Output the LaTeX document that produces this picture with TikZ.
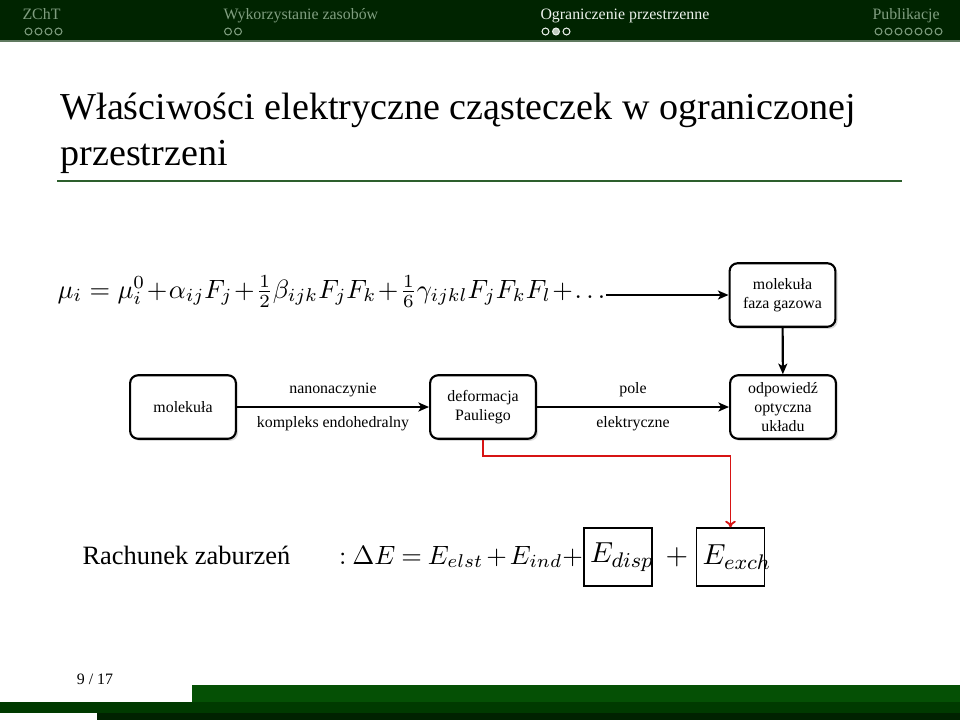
\documentclass[tikz,border=0pt]{standalone}
\usepackage[no-math]{fontspec}
\setmainfont{Liberation Serif}
\usetikzlibrary{arrows.meta,shadows}
\definecolor{pasek}{RGB}{0,36,0}
\definecolor{paseklinia}{RGB}{96,122,96}
\definecolor{nawig}{RGB}{128,158,128}
\definecolor{nawigakt}{RGB}{236,242,236}
\definecolor{linia}{RGB}{45,95,45}
\definecolor{stopkaA}{RGB}{5,80,5}
\definecolor{stopkaB}{RGB}{0,58,0}
\definecolor{stopkaC}{RGB}{0,34,0}
\definecolor{czerwony}{RGB}{215,20,20}
\tikzset{
  blok/.style={draw, line width=0.8pt, rounded corners=3pt, fill=white,
    minimum width=40pt, minimum height=24pt, align=center, inner sep=1pt,
    font=\fontsize{6}{7.2}\selectfont,
    drop shadow={shadow xshift=0.8pt, shadow yshift=-0.8pt, opacity=0.3}},
  etykieta/.style={font=\fontsize{6}{7.2}\selectfont},
  ramka/.style={draw, line width=0.5pt, text width=21pt, inner sep=2.3pt,
    minimum height=21.9pt, align=left, font=\fontsize{11}{13}\selectfont},
  nawig/.style={font=\fontsize{6}{7.2}\selectfont, anchor=base west, inner sep=0pt},
  kropka/.style={circle, draw, line width=0.4pt, minimum size=2.6pt, inner sep=0pt},
  strzalka/.style={-{Stealth[length=4pt,width=3.4pt,inset=1pt]}, line width=0.8pt},
  czerwona/.style={-{To[length=2.5pt,width=4pt]}, line width=0.7pt, draw=czerwony}
}
\begin{document}
\begin{tikzpicture}[x=0.378pt,y=-0.378pt]
\useasboundingbox (0,0) rectangle (960,720);
\fill[pasek] (0,0) rectangle (960,40);
\fill[paseklinia] (0,40) rectangle (960,42);
\node[nawig, text=nawig] (s1) at (22,19) {ZChT};
\node[nawig, text=nawig] (s2) at (223,19) {Wykorzystanie zasobów};
\node[nawig, text=nawigakt] (s3) at (540,19) {Ograniczenie przestrzenne};
\node[nawig, text=nawig] (s4) at (872,19) {Publikacje};
\foreach \i in {0,...,3}
  \node[kropka, draw=nawig] (k1\i) at (28.5+10*\i,31.5) {};
\foreach \i in {0,1}
  \node[kropka, draw=nawig] (k2\i) at (228+10*\i,31.5) {};
\node[kropka, draw=nawigakt] (k30) at (545.5,31.5) {};
\node[kropka, draw=nawigakt, fill=nawigakt!80!pasek] (k31) at (556,31.5) {};
\node[kropka, draw=nawigakt] (k32) at (566.5,31.5) {};
\foreach \i in {0,...,6}
  \node[kropka, draw=nawig] (k4\i) at (878.5+10*\i,31.5) {};

\node[anchor=base west, inner sep=0pt, font=\fontsize{14.4}{17.28}\selectfont] (t1) at (60,119) {Właściwości elektryczne cząsteczek w ograniczonej};
\node[anchor=base west, inner sep=0pt, font=\fontsize{14.4}{17.28}\selectfont] (t2) at (60,165) {przestrzeni};
\draw[linia, line width=0.75pt] (57,181) -- (902,181);

\node[anchor=base west, inner sep=0pt, font=\fontsize{10}{12}\selectfont] (eq) at (57,298) {\medmuskip=1mu $\mu_i = \mu_i^0+\alpha_{ij}F_j+\frac{1}{2}\beta_{ijk}F_jF_k+\frac{1}{6}\gamma_{ijkl}F_jF_kF_l+\ldots$};
\node[blok] (gas) at (782.5,295) {molekuła\\faza gazowa};
\node[blok] (mol) at (183,407) {molekuła};
\node[blok] (deform) at (483,407) {deformacja\\Pauliego};
\node[blok] (resp) at (783,407) {odpowiedź\\optyczna\\układu};
\draw[strzalka] (eq.east |- gas.west) -- (gas.west);
\draw[strzalka] (gas) -- (resp);
\draw[strzalka] (mol) -- node[etykieta, above] {nanonaczynie} node[etykieta, below] {kompleks endohedralny} (deform);
\draw[strzalka] (deform) -- node[etykieta, above] {pole} node[etykieta, below] {elektryczne} (resp);

\node[anchor=base west, inner sep=0pt] (rach) at (82,564) {Rachunek zaburzeń};
\node[ramka] (disp) at (618,557) {$E_{disp}$};
\node[anchor=base east, inner sep=0pt, font=\fontsize{10}{12}\selectfont] (rown) at (disp.west |- 0,564) {\medmuskip=2mu \thickmuskip=4mu $:\Delta E = E_{elst}+E_{ind}+$};
\node[anchor=base, inner sep=0pt, font=\fontsize{11}{13}\selectfont] (plus) at (677,564) {$+$};
\node[ramka] (exch) at (730.5,557) {$E_{exch}$};
\draw[czerwona] (deform.south) -- ++(0,16) -| (exch.north);

\node[anchor=base, inner sep=0pt, font=\fontsize{6}{7.2}\selectfont] (nr) at (95,684) {9 / 17};
\fill[stopkaA] (192,685) rectangle (960,702);
\fill[stopkaB] (0,702) rectangle (960,713);
\fill[stopkaC] (97,713) rectangle (960,720);
\end{tikzpicture}
\end{document}
